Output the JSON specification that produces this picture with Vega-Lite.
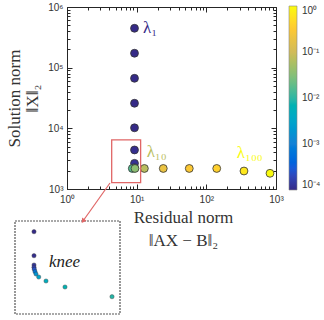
{
  "$schema": "https://vega.github.io/schema/vega-lite/v6.json",
  "width": 209,
  "height": 182,
  "autosize": "none",
  "padding": {"left": 67, "top": 7, "right": 48, "bottom": 131},
  "background": "white",
  "config": {
    "view": {"stroke": "#262626", "strokeWidth": 1},
    "font": "Liberation Sans",
    "axis": {"labelFont": "Liberation Sans", "labelFontSize": 10, "labelColor": "#333333", "domainColor": "#262626", "tickColor": "#262626", "grid": false, "titleFont": "Liberation Serif, DejaVu Serif", "titleFontWeight": "normal", "titleColor": "#333333", "titleFontSize": 17}
  },
  "datasets": {
    "main": [
      {"res": 9.31, "sol": 446000, "lam": 0.0001},
      {"res": 9.31, "sol": 173000, "lam": 0.0001},
      {"res": 9.31, "sol": 66800, "lam": 0.0001},
      {"res": 9.31, "sol": 25900, "lam": 0.0001},
      {"res": 9.31, "sol": 10200, "lam": 0.0001},
      {"res": 9.31, "sol": 4400, "lam": 0.00011},
      {"res": 9.31, "sol": 2650, "lam": 0.00012},
      {"res": 9.31, "sol": 2250, "lam": 0.00015},
      {"res": 8.66, "sol": 2180, "lam": 0.016},
      {"res": 820, "sol": 1815, "lam": 1.0},
      {"res": 347, "sol": 1980, "lam": 0.65},
      {"res": 141, "sol": 2180, "lam": 0.38},
      {"res": 56.9, "sol": 2180, "lam": 0.3},
      {"res": 24.1, "sol": 2180, "lam": 0.2},
      {"res": 12.9, "sol": 2180, "lam": 0.07},
      {"res": 9.46, "sol": 2180, "lam": 0.035}
    ],
    "labels": [
      {"res": 12.3, "sol": 450000, "text": "λ₁", "lam": 0.0001},
      {"res": 13.9, "sol": 4070, "text": "λ₁₀", "lam": 0.07},
      {"res": 273, "sol": 3920, "text": "λ₁₀₀", "lam": 1.0}
    ],
    "zoombox": [
      {"r0": 4.38, "r1": 11.4, "s0": 1270, "s1": 6430}
    ],
    "inset": [
      {"ix": 19, "iy": 82.3, "lam": 0.0001},
      {"ix": 19, "iy": 58.3, "lam": 0.00011},
      {"ix": 19, "iy": 49, "lam": 0.00013},
      {"ix": 19, "iy": 46.7, "lam": 0.00016},
      {"ix": 19.3, "iy": 44.7, "lam": 0.00025},
      {"ix": 20, "iy": 42.3, "lam": 0.0007},
      {"ix": 21, "iy": 40, "lam": 0.0018},
      {"ix": 23.7, "iy": 37, "lam": 0.0035},
      {"ix": 31, "iy": 33, "lam": 0.005},
      {"ix": 50, "iy": 27, "lam": 0.007},
      {"ix": 97, "iy": 17.3, "lam": 0.009}
    ],
    "insetframe": [{"x0": 0, "x1": 105, "y0": 0, "y1": 93}],
    "knee": [{"ix": 34, "iy": 52.3, "text": "knee"}],
    "arrow": [{"xa": 95, "ya": 131, "xb": 68, "yb": 93}]
  },
  "layer": [
    {
      "layer": [
        {
          "data": {"name": "main"},
          "mark": {"type": "point", "filled": true, "size": 62, "stroke": "#333333", "strokeWidth": 0.8, "opacity": 1},
          "encoding": {
            "x": {"field": "res", "type": "quantitative",
              "scale": {"type": "log", "domain": [1, 1000], "nice": false},
              "axis": {
                "values": [1,2,3,4,5,6,7,8,9,10,20,30,40,50,60,70,80,90,100,200,300,400,500,600,700,800,900,1000],
                "labelExpr": "datum.value == 1 ? '10⁰' : datum.value == 10 ? '10¹' : datum.value == 100 ? '10²' : datum.value == 1000 ? '10³' : ''",
                "tickSize": {"condition": {"test": "datum.value == 1 || datum.value == 10 || datum.value == 100 || datum.value == 1000", "value": -5}, "value": -3},
                "labelPadding": 10,
                "labelFlush": false,
                "labelOverlap": false,
                "title": ["Residual norm", "‖AX − B‖₂"],
                "titleFontWeight": "normal",
                "titleLineHeight": 23,
                "titleX": 116,
                "titleY": 20,
                "titleBaseline": "top",
                "titleAlign": "center",
                "titleAnchor": null
              }},
            "y": {"field": "sol", "type": "quantitative",
              "scale": {"type": "log", "domain": [1000, 1000000], "nice": false},
              "axis": {
                "values": [1000,2000,3000,4000,5000,6000,7000,8000,9000,10000,20000,30000,40000,50000,60000,70000,80000,90000,100000,200000,300000,400000,500000,600000,700000,800000,900000,1000000],
                "labelExpr": "datum.value == 1000 ? '10³' : datum.value == 10000 ? '10⁴' : datum.value == 100000 ? '10⁵' : datum.value == 1000000 ? '10⁶' : ''",
                "tickSize": {"condition": {"test": "datum.value == 1000 || datum.value == 10000 || datum.value == 100000 || datum.value == 1000000", "value": -5}, "value": -3},
                "labelPadding": 9,
                "labelFlush": false,
                "labelOverlap": false,
                "title": ["Solution norm", "‖X‖₂"],
                "titleFontWeight": "normal",
                "titleLineHeight": 18,
                "titleX": -61,
                "titleY": 91,
                "titleAngle": -90,
                "titleBaseline": "top",
                "titleAlign": "center",
                "titleAnchor": null
              }},
            "color": {"field": "lam", "type": "quantitative",
              "scale": {"type": "log", "domain": [0.0001, 1], "range": ["#352a87", "#0f5cdd", "#1481d6", "#06a4ca", "#2eb7a4", "#87bf77", "#d1bb59", "#fec832", "#f9fb0e"]},
              "legend": {
                "orient": "none", "legendX": 222, "legendY": -1,
                "title": null, "direction": "vertical",
                "gradientLength": 184, "gradientThickness": 8,
                "gradientStrokeColor": "#888888", "gradientStrokeWidth": 0.6,
                "values": [0.0001, 0.001, 0.01, 0.1, 1],
                "labelExpr": "datum.value > 0.5 ? '10⁰' : datum.value > 0.05 ? '10⁻¹' : datum.value > 0.005 ? '10⁻²' : datum.value > 0.0005 ? '10⁻³' : '10⁻⁴'",
                "labelFont": "Liberation Sans", "labelFontSize": 10, "labelColor": "#333333", "labelOffset": 5
              }}
          }
        },
        {
          "data": {"name": "labels"},
          "mark": {"type": "text", "align": "left", "baseline": "middle", "font": "Liberation Serif, DejaVu Serif", "fontSize": 17},
          "encoding": {
            "x": {"field": "res", "type": "quantitative",
              "axis": {"orient": "top", "values": [1,2,3,4,5,6,7,8,9,10,20,30,40,50,60,70,80,90,100,200,300,400,500,600,700,800,900,1000], "labels": false, "title": null, "domain": false,
                "tickSize": {"condition": {"test": "datum.value == 1 || datum.value == 10 || datum.value == 100 || datum.value == 1000", "value": -5}, "value": -3}}},
            "y": {"field": "sol", "type": "quantitative",
              "axis": {"orient": "right", "values": [1000,2000,3000,4000,5000,6000,7000,8000,9000,10000,20000,30000,40000,50000,60000,70000,80000,90000,100000,200000,300000,400000,500000,600000,700000,800000,900000,1000000], "labels": false, "title": null, "domain": false,
                "tickSize": {"condition": {"test": "datum.value == 1000 || datum.value == 10000 || datum.value == 100000 || datum.value == 1000000", "value": -5}, "value": -3}}},
            "text": {"field": "text"},
            "color": {"field": "lam", "type": "quantitative"}
          }
        },
        {
          "data": {"name": "zoombox"},
          "mark": {"type": "rect", "fill": null, "fillOpacity": 0, "stroke": "#e06666", "strokeWidth": 1.3},
          "encoding": {
            "x": {"field": "r0", "type": "quantitative", "axis": null},
            "x2": {"field": "r1"},
            "y": {"field": "s0", "type": "quantitative", "axis": null},
            "y2": {"field": "s1"}
          }
        }
      ],
      "resolve": {"axis": {"x": "independent", "y": "independent"}}
    },
    {
      "layer": [
        {
          "data": {"name": "insetframe"},
          "mark": {"type": "rect", "fill": "white", "stroke": "#555555", "strokeWidth": 1.2, "strokeDash": [2, 1]},
          "encoding": {
            "x": {"field": "x0", "type": "quantitative", "scale": {"domain": [0, 105], "range": [-52, 53], "nice": false, "zero": false}, "axis": null},
            "x2": {"field": "x1"},
            "y": {"field": "y0", "type": "quantitative", "scale": {"domain": [0, 93], "range": [307, 214], "nice": false, "zero": false}, "axis": null},
            "y2": {"field": "y1"}
          }
        },
        {
          "data": {"name": "inset"},
          "mark": {"type": "point", "filled": true, "size": 18, "stroke": "#333333", "strokeWidth": 0.4, "opacity": 1},
          "encoding": {
            "x": {"field": "ix", "type": "quantitative"},
            "y": {"field": "iy", "type": "quantitative"},
            "color": {"field": "lam", "type": "quantitative"}
          }
        },
        {
          "data": {"name": "knee"},
          "mark": {"type": "text", "align": "left", "baseline": "middle", "font": "Liberation Serif, DejaVu Serif", "fontStyle": "italic", "fontWeight": "normal", "fontSize": 17, "color": "#222222"},
          "encoding": {
            "x": {"field": "ix", "type": "quantitative"},
            "y": {"field": "iy", "type": "quantitative"},
            "text": {"field": "text"}
          }
        },
        {
          "data": {"name": "arrow"},
          "mark": {"type": "rule", "color": "#e06666", "strokeWidth": 1.2},
          "encoding": {
            "x": {"field": "xa", "type": "quantitative"},
            "y": {"field": "ya", "type": "quantitative"},
            "x2": {"field": "xb"},
            "y2": {"field": "yb"}
          }
        },
        {
          "data": {"name": "arrow"},
          "mark": {"type": "point", "shape": "triangle-down", "filled": true, "color": "#e06666", "size": 28, "angle": 35, "opacity": 1},
          "encoding": {
            "x": {"field": "xb", "type": "quantitative"},
            "y": {"field": "yb", "type": "quantitative"}
          }
        }
      ]
    }
  ],
  "resolve": {"scale": {"x": "independent", "y": "independent"}}
}
